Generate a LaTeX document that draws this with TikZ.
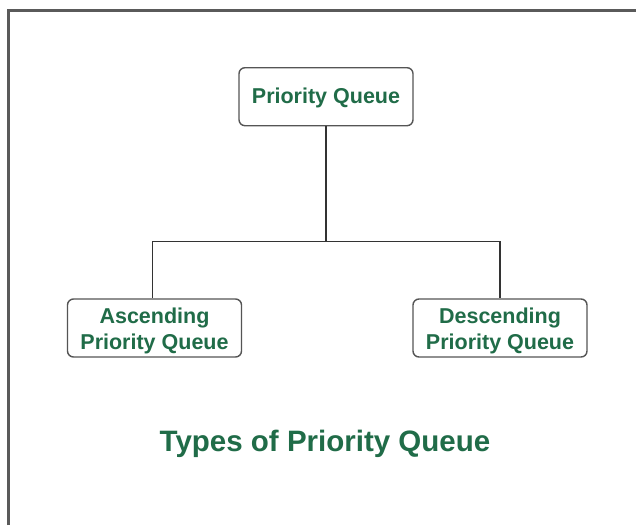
\documentclass[tikz,border=0pt]{standalone}
\usepackage{fontspec}
\setmainfont{Liberation Sans}
\definecolor{qgreen}{RGB}{32,108,72}
\definecolor{edgegray}{RGB}{85,85,85}
\definecolor{framegray}{RGB}{90,90,90}
\tikzset{
  qbox/.style={draw=edgegray, line width=1.4pt, rounded corners=6pt, fill=white,
    minimum width=174pt, minimum height=58pt, inner sep=0pt},
  qtext/.style={inner sep=0pt, align=center, text=qgreen,
    font=\fontsize{21.5}{26}\selectfont\bfseries},
  link/.style={draw=black!80, line width=1.5pt},
  frameline/.style={draw=framegray, line width=3pt},
  caption/.style={text=qgreen, font=\fontsize{29.5}{34}\selectfont\bfseries}
}
\begin{document}
\begin{tikzpicture}[x=1pt,y=1pt]
  \useasboundingbox (0,0) rectangle (636,-525);
  \fill[white] (0,0) rectangle (636,-525);
  % outer frame (left and top edges)
  \coordinate (fbl) at (8.5,-525);
  \coordinate (ftl) at (8.5,-10.5);
  \coordinate (ftr) at (636,-10.5);
  \draw[frameline] (fbl) -- (ftl) -- (ftr);
  % boxes
  \node[qbox] (pq) at (326,-96.7) {};
  \node[qbox] (asc) at (154.5,-328) {};
  \node[qbox] (desc) at (500,-328) {};
  % box labels
  \node[qtext] (pqtxt) at ([yshift=-1.5pt]pq.center) {Priority Queue};
  \node[qtext] (asctxt) at ([yshift=-3pt]asc.center) {Ascending\\Priority Queue};
  \node[qtext] (desctxt) at ([yshift=-3pt]desc.center) {Descending\\Priority Queue};
  % connectors
  \coordinate (j) at (326,-241.7);
  \draw[link] (pq.south) -- (j);
  \draw[link] ([xshift=-2pt]asc.north) -- ([xshift=-2pt]asc.north |- j)
     -- (desc.north |- j) -- (desc.north);
  % caption
  \node[caption] (title) at (325,-444) {Types of Priority Queue};
\end{tikzpicture}
\end{document}
